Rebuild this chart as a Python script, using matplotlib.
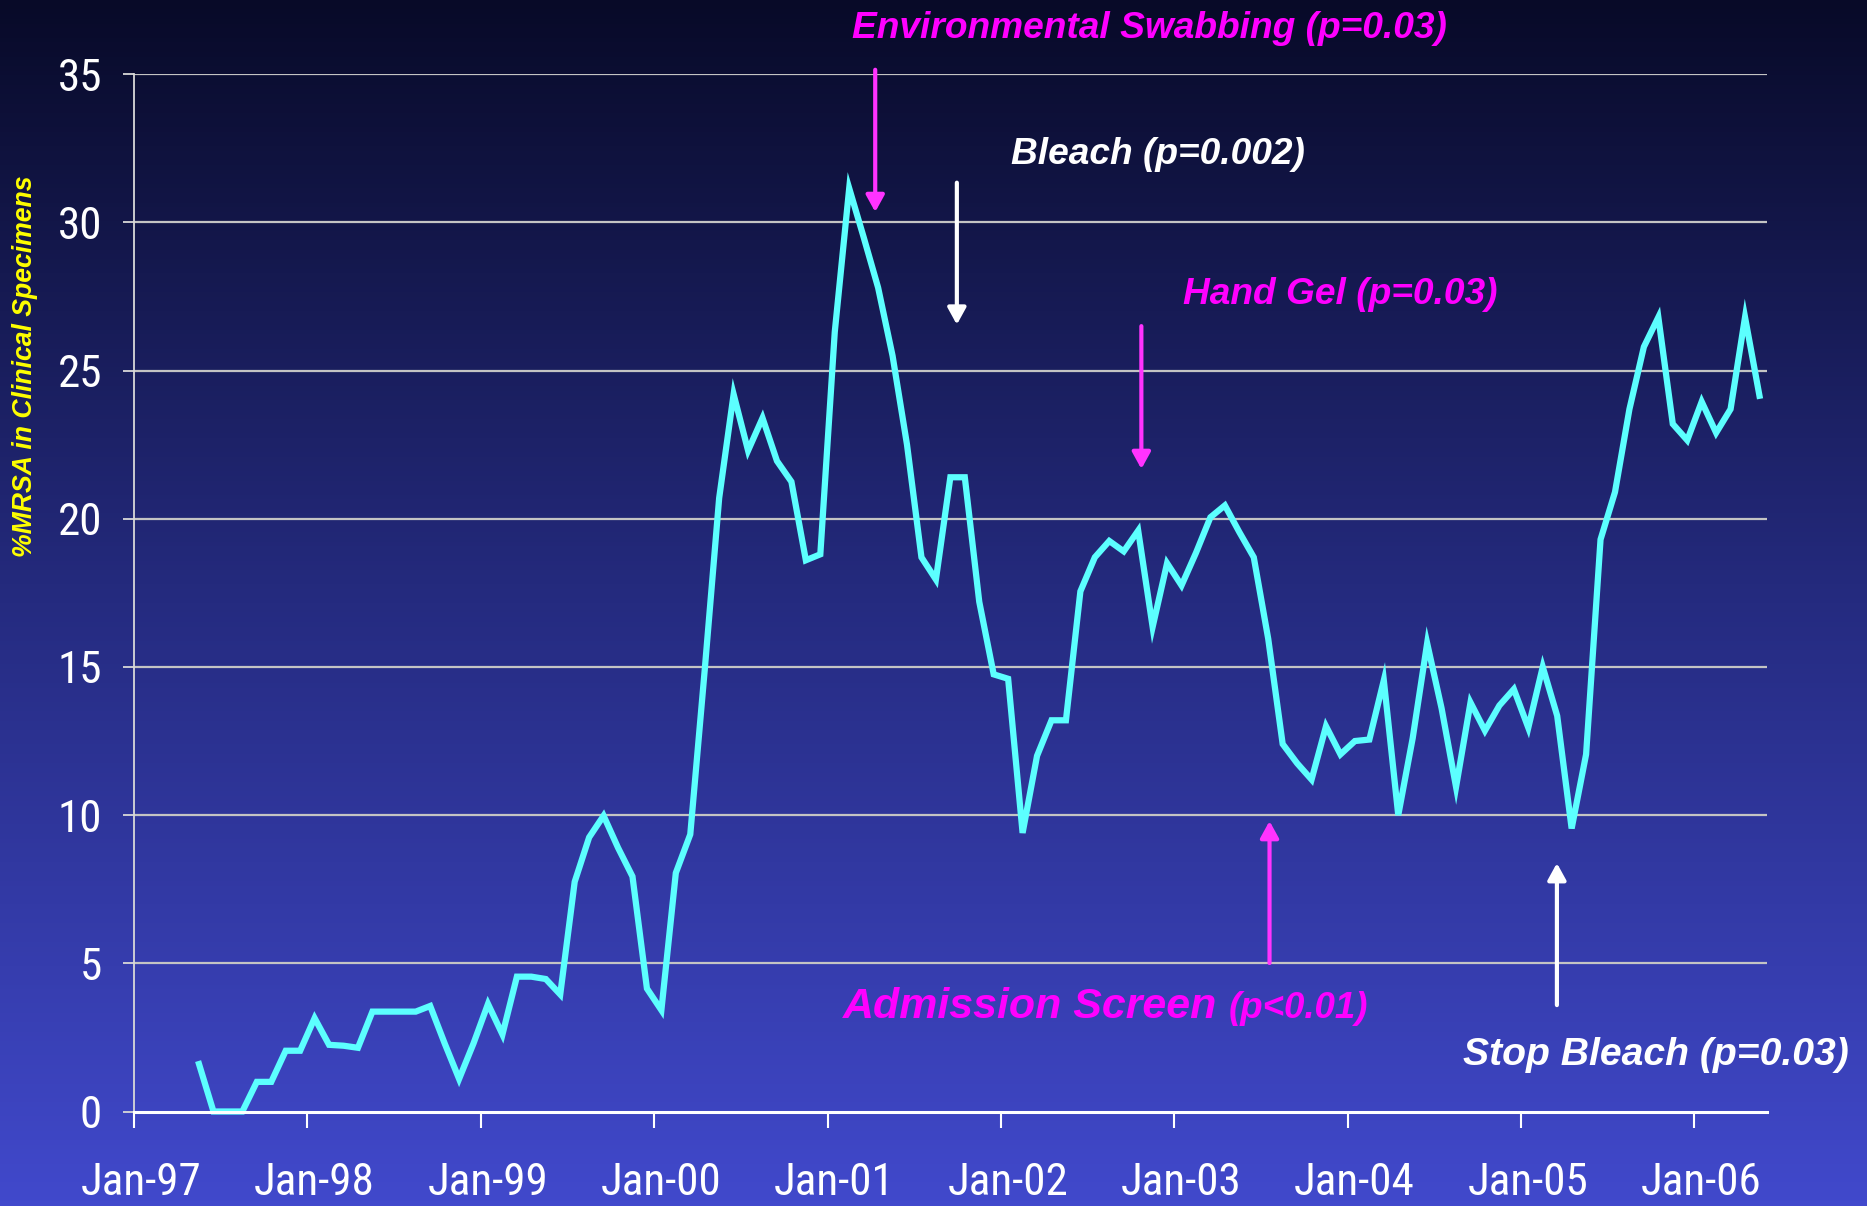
import numpy as np
import matplotlib
matplotlib.use("Agg")
import matplotlib.pyplot as plt
from matplotlib import font_manager as fm
from matplotlib.colors import LinearSegmentedColormap
from matplotlib.transforms import ScaledTranslation

# ---------------- data ----------------
first_month_index = 4          # May-97 (months counted from Jan-97)
mrsa_pct = [
    1.6, 0.0, 0.0, 0.0, 1.0, 1.0, 2.05, 2.05,                     # May-97 .. Dec-97
    3.15, 2.25, 2.22, 2.15, 3.37, 3.37, 3.37, 3.37, 3.56, 2.3, 1.1, 2.3,   # 1998
    3.63, 2.6, 4.55, 4.55, 4.47, 3.95, 7.75, 9.25, 9.98, 8.9, 7.93, 4.15,  # 1999
    3.42, 8.05, 9.35, 14.9, 20.7, 24.2, 22.3, 23.4, 21.95, 21.25, 18.6, 18.8,  # 2000
    26.3, 31.15, 29.5, 27.8, 25.5, 22.5, 18.7, 17.95, 21.4, 21.4, 17.2, 14.75,  # 2001
    14.6, 9.4, 12.0, 13.2, 13.2, 17.55, 18.7, 19.25, 18.9, 19.6, 16.35, 18.5,  # 2002
    17.75, 18.85, 20.05, 20.45, 19.55, 18.7, 15.95, 12.4, 11.75, 11.2, 13.0, 12.05,  # 2003
    12.5, 12.55, 14.55, 10.0, 12.6, 15.8, 13.6, 10.95, 13.8, 12.85, 13.7, 14.25,  # 2004
    12.95, 15.0, 13.35, 9.55, 12.05, 19.3, 20.9, 23.7, 25.8, 26.8, 23.2, 22.65,  # 2005
    23.95, 22.9, 23.7, 26.8, 24.15,                                 # Jan-06 .. May-06
]
n_months = 113                 # Jan-97 .. May-06
tick_months = [0, 12, 24, 36, 48, 60, 72, 84, 96, 108]
tick_labels = ["Jan-97", "Jan-98", "Jan-99", "Jan-00", "Jan-01",
               "Jan-02", "Jan-03", "Jan-04", "Jan-05", "Jan-06"]
y_ticks = [0, 5, 10, 15, 20, 25, 30, 35]

# interventions: month position, arrow tail y, arrow tip y
interventions = {
    "env":    (51.3, 35.15, 30.35),
    "bleach": (56.95, 31.34, 26.55),
    "gel":    (69.72, 26.5, 21.68),
    "adm":    (78.59, 5.01, 9.80),
    "stop":   (98.48, 3.59, 8.38),
}

# ---------------- condensed font lookup ----------------
def find_condensed():
    prefs = ["Liberation Sans Narrow", "Arial Narrow", "Roboto Condensed",
             "Open Sans Condensed", "DejaVu Sans", "Noto Sans"]
    entries = fm.fontManager.ttflist
    for fam in prefs:
        for e in entries:
            if e.name == fam and e.style == "normal" and \
               (e.stretch in ("condensed", "semi-condensed", "extra-condensed")
                or "Narrow" in fam or "Condensed" in fam):
                w = e.weight if isinstance(e.weight, int) else 400
                if 350 <= w <= 500:
                    return e.fname
    for e in entries:
        if e.style == "normal" and e.stretch in ("condensed", "semi-condensed") \
                and "Mono" not in e.name and "Serif" not in e.name:
            return e.fname
    return None

cond_path = find_condensed()
if cond_path:
    tick_fp = fm.FontProperties(fname=cond_path, size=32.5)
else:
    tick_fp = fm.FontProperties(family="Liberation Sans", size=29)

# ---------------- figure ----------------
W, H = 1867, 1206
fig = plt.figure(figsize=(W / 100, H / 100), dpi=100)

bg = fig.add_axes([0, 0, 1, 1], zorder=-10)
cmap = LinearSegmentedColormap.from_list("bg", ["#080a28", "#252b80", "#4149cc"])
grad = np.linspace(0, 1, 256).reshape(-1, 1)
bg.imshow(grad, aspect="auto", cmap=cmap, extent=[0, 1, 0, 1], origin="upper")
bg.set_axis_off()

def fx(px):
    return px / W

def fy(py):
    return 1 - py / H

left, right, top, bottom = 134, 1766.7, 74.2, 1111.5
ax = fig.add_axes([fx(left), fy(bottom), fx(right) - fx(left), fy(top) - fy(bottom)])
ax.set_facecolor("none")
ax.set_xlim(0, n_months)
ax.set_ylim(0, 35)

for yv in y_ticks[1:]:
    ax.axhline(yv, color="#c4c4c4", lw=1.6, zorder=1)

x = np.arange(len(mrsa_pct)) + first_month_index + 0.5
ax.plot(x, mrsa_pct, color="#5cffff", lw=4.5, solid_joinstyle="miter",
        zorder=3, clip_on=False)

for s in ["top", "right"]:
    ax.spines[s].set_visible(False)
ax.spines["left"].set_color("#d8d8d8")
ax.spines["left"].set_linewidth(1.3)
ax.spines["bottom"].set_color("white")
ax.spines["bottom"].set_linewidth(2.2)
ax.spines["bottom"].set_zorder(4)

ax.set_yticks(y_ticks)
ax.set_yticklabels([str(v) for v in y_ticks], fontproperties=tick_fp, color="white")
ax.set_xticks(tick_months)
ax.set_xticklabels(tick_labels, fontproperties=tick_fp, color="white")
ax.tick_params(axis="y", direction="out", length=8, width=1.3, color="#d8d8d8", pad=15)
ax.tick_params(axis="x", direction="out", length=11.5, width=1.5, color="white", pad=25)
for lab in ax.get_xticklabels():
    lab.set_transform(lab.get_transform() + ScaledTranslation(5 / 72, 0, fig.dpi_scale_trans))

fig.text(fx(25), fy(366), "%MRSA in Clinical Specimens", rotation=90,
         ha="center", va="center", color="#ffff00", fontsize=19.2,
         family="Liberation Sans", weight="bold", style="italic")

MAG = "#ff00ff"
MAG_ARROW = "#ff33ff"
txt = dict(family="Liberation Sans", weight="bold", style="italic",
           ha="left", va="baseline")
fig.text(fx(852), fy(38), "Environmental Swabbing (p=0.03)", color=MAG, fontsize=26.7, **txt)
fig.text(fx(1010.7), fy(164), "Bleach (p=0.002)", color="white", fontsize=26.7, **txt)
fig.text(fx(1182.6), fy(303.5), "Hand Gel (p=0.03)", color=MAG, fontsize=26.7, **txt)
fig.text(fx(843), fy(1017.8), "Admission Screen", color=MAG, fontsize=30.9, **txt)
fig.text(fx(1228.6), fy(1017.8), "(p<0.01)", color=MAG, fontsize=26.4, **txt)
fig.text(fx(1462.5), fy(1064.6), "Stop Bleach (p=0.03)", color="white", fontsize=28.2, **txt)

arrow_colors = {"env": MAG_ARROW, "bleach": "white", "gel": MAG_ARROW,
                "adm": MAG_ARROW, "stop": "white"}
for key, (xm, y_tail, y_tip) in interventions.items():
    ax.annotate("", xy=(xm, y_tip), xytext=(xm, y_tail),
                arrowprops=dict(arrowstyle="-|>,head_length=1.0,head_width=0.55",
                                mutation_scale=10, lw=3.0,
                                color=arrow_colors[key], shrinkA=0, shrinkB=0),
                annotation_clip=False, zorder=5)

fig.savefig("out.png", dpi=100)
